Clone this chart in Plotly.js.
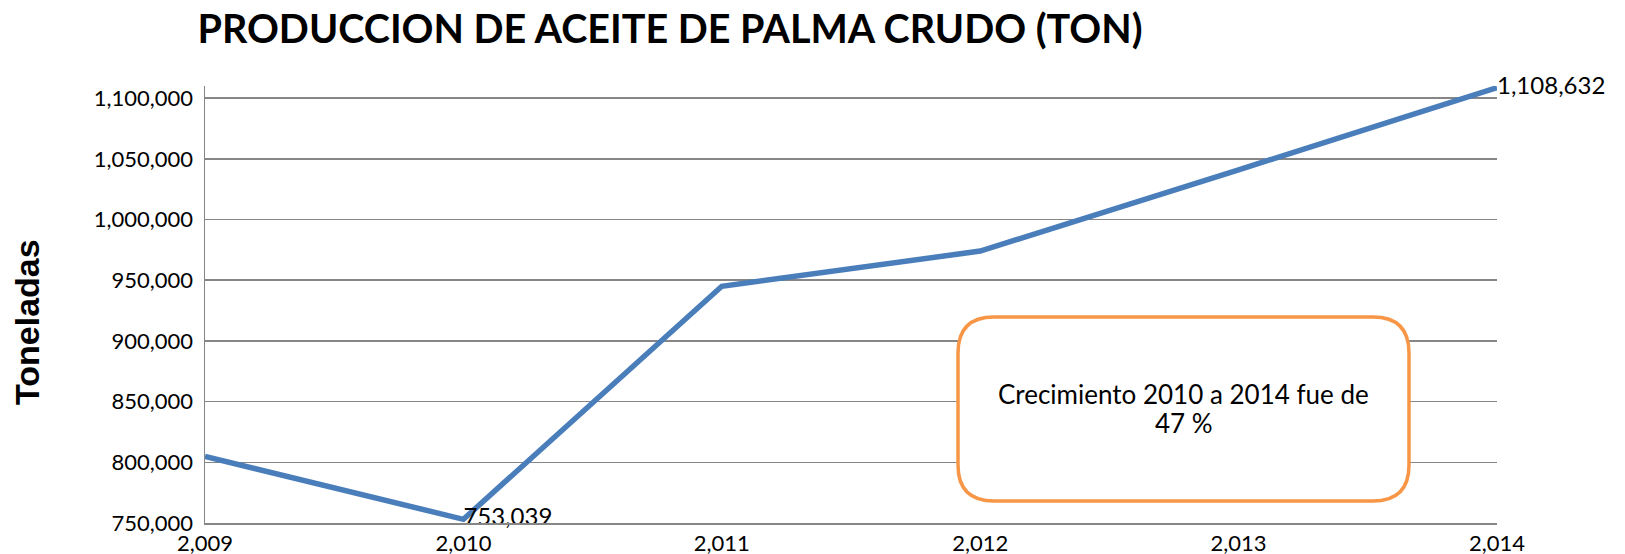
<!DOCTYPE html>
<html>
<head>
<meta charset="utf-8">
<script src="https://cdn.plot.ly/plotly-3.0.1.min.js"></script>
<style>
html,body{margin:0;padding:0;background:#fff;}
#chart{width:1625px;height:554px;}
</style>
</head>
<body>
<div id="chart"></div>
<script>
// Data
var years = [2009, 2010, 2011, 2012, 2013, 2014];
var production = [804800, 753039, 945000, 974000, 1041000, 1108632];
var labelText = ["", "753,039", "", "", "", "1,108,632"];
var titleText = "PRODUCCION DE ACEITE DE PALMA CRUDO (TON)";
var yTitle = "Toneladas";
var noteLines = ["Crecimiento 2010 a 2014 fue de", "47 %"];

var plotL = 205, plotR = 1497, plotT = 86, plotB = 523;
var W = 1625, H = 554;
var pw = plotR - plotL, ph = plotB - plotT;

function px(x){ return (x - plotL) / pw; }
function py(y){ return (plotB - y) / ph; }

// rounded rect for annotation box (paper coords)
var bx0 = px(958), bx1 = px(1409), by0 = py(501), by1 = py(317);
var rx = 36 / pw, ry = 36 / ph;
var path = 'M ' + (bx0 + rx) + ',' + by1 +
  ' L ' + (bx1 - rx) + ',' + by1 +
  ' Q ' + bx1 + ',' + by1 + ' ' + bx1 + ',' + (by1 - ry) +
  ' L ' + bx1 + ',' + (by0 + ry) +
  ' Q ' + bx1 + ',' + by0 + ' ' + (bx1 - rx) + ',' + by0 +
  ' L ' + (bx0 + rx) + ',' + by0 +
  ' Q ' + bx0 + ',' + by0 + ' ' + bx0 + ',' + (by0 + ry) +
  ' L ' + bx0 + ',' + (by1 - ry) +
  ' Q ' + bx0 + ',' + by1 + ' ' + (bx0 + rx) + ',' + by1 + ' Z';

var trace = {
  x: years,
  y: production,
  type: 'scatter',
  mode: 'lines+text',
  text: labelText,
  textposition: 'middle right',
  textfont: {family: 'Lato, Carlito, sans-serif', size: 24, color: '#000'},
  line: {color: '#4A7EBB', width: 5.5},
  cliponaxis: false,
  hoverinfo: 'x+y'
};

var annotations = [
  {
    text: '<b>' + yTitle + '</b>', xref: 'paper', yref: 'paper',
    x: px(27), y: py(322), xanchor: 'center', yanchor: 'middle',
    textangle: -90, showarrow: false,
    font: {family: 'Liberation Sans, Arial, sans-serif', size: 34, color: '#000'}
  }
];
var lineYs = [394, 423];
noteLines.forEach(function(t, i){
  annotations.push({
    text: t, xref: 'paper', yref: 'paper',
    x: (bx0 + bx1) / 2, y: py(lineYs[i]), xanchor: 'center', yanchor: 'middle',
    align: 'center', showarrow: false,
    font: {family: 'Lato, Carlito, sans-serif', size: 26, color: '#000'}
  });
});

var layout = {
  width: W, height: H,
  paper_bgcolor: '#fff', plot_bgcolor: '#fff',
  margin: {l: plotL, r: W - plotR, t: plotT, b: H - plotB, pad: 0},
  showlegend: false,
  font: {family: 'Lato, Carlito, sans-serif', size: 22, color: '#000'},
  title: {
    text: '<b>' + titleText + '</b>',
    font: {family: 'Lato, Carlito, sans-serif', size: 39.5, color: '#000'},
    x: 670 / W, xanchor: 'center', xref: 'container',
    y: 1 - 29 / H, yanchor: 'middle', yref: 'container'
  },
  xaxis: {
    range: [2009, 2014],
    tickvals: years,
    tickformat: ',d',
    showgrid: false,
    zeroline: false,
    showline: true, linecolor: '#868686', linewidth: 1.5,
    ticks: '',
    tickfont: {family: 'Lato, Carlito, sans-serif', size: 22, color: '#000'},
    ticklabelstandoff: 0,
    fixedrange: true
  },
  yaxis: {
    range: [750000, 1110000],
    dtick: 50000, tick0: 750000,
    tickformat: ',d',
    showgrid: true, gridcolor: '#868686', gridwidth: 1.5,
    zeroline: false,
    showline: true, linecolor: '#868686', linewidth: 1.5,
    ticks: '',
    ticklabelstandoff: 6,
    tickfont: {family: 'Lato, Carlito, sans-serif', size: 22, color: '#000'},
    fixedrange: true
  },
  shapes: [{
    type: 'path', xref: 'paper', yref: 'paper', path: path,
    fillcolor: '#FFFFFF', line: {color: '#F79646', width: 3.5}, layer: 'above'
  }],
  annotations: annotations
};

Plotly.newPlot('chart', [trace], layout, {displayModeBar: false, staticPlot: true});
</script>
</body>
</html>
